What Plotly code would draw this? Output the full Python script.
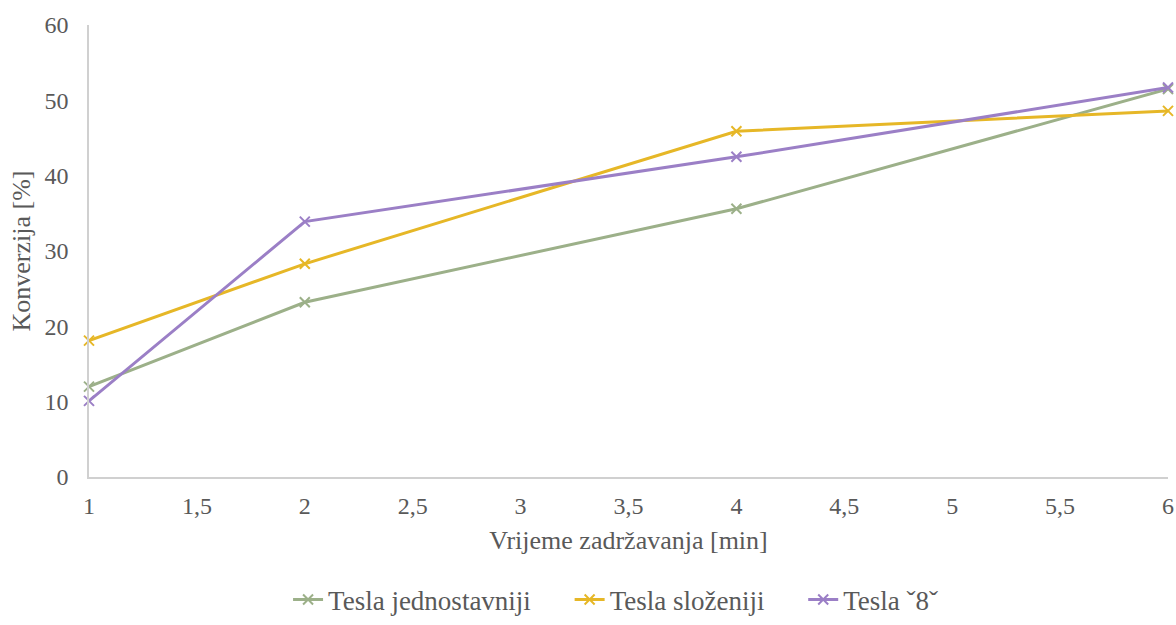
import plotly.graph_objects as go

x_vals = [1, 2, 4, 6]
series_names = ["Tesla jednostavniji", "Tesla složeniji", "Tesla ˇ8ˇ"]
y_jednostavniji = [12.0, 23.2, 35.6, 51.5]
y_slozeniji = [18.1, 28.3, 45.9, 48.6]
y_osam = [10.1, 33.9, 42.5, 51.7]
colors = ["#9CB089", "#E6B727", "#9B7FC6"]

x_ticks = [1, 1.5, 2, 2.5, 3, 3.5, 4, 4.5, 5, 5.5, 6]
x_ticktext = ["1", "1,5", "2", "2,5", "3", "3,5", "4", "4,5", "5", "5,5", "6"]

font_family = "Liberation Serif, Times New Roman, serif"
pad = "\u00a0" * 5

fig = go.Figure()
for i, (name, ys, c) in enumerate(zip(series_names, [y_jednostavniji, y_slozeniji, y_osam], colors)):
    label = name + (pad if i < len(series_names) - 1 else "")
    fig.add_trace(go.Scatter(
        x=x_vals, y=ys, name=label, mode="lines+markers",
        line=dict(color=c, width=3),
        marker=dict(symbol="x-thin", size=10, line=dict(color=c, width=2), color=c),
        cliponaxis=False,
    ))

txt = "#595959"
fig.update_layout(
    width=1176, height=625,
    margin=dict(l=89, r=8, t=25, b=148),
    paper_bgcolor="white", plot_bgcolor="white",
    font=dict(family=font_family, color=txt, size=24),
    showlegend=True,
    legend=dict(orientation="h", x=0.488, xanchor="center", xref="paper",
                y=0.04, yanchor="middle", yref="container",
                font=dict(family=font_family, size=27, color=txt)),
    xaxis=dict(
        range=[1, 6], tickvals=x_ticks, ticktext=x_ticktext, automargin=False,
        showgrid=False, zeroline=False, showline=True, linecolor="#D0D0D0", linewidth=1.5,
        ticks="", ticklabelstandoff=6, tickfont=dict(family=font_family, size=24, color=txt),
        title=dict(text="Vrijeme zadržavanja [min]", font=dict(family=font_family, size=26, color=txt), standoff=13),
    ),
    yaxis=dict(
        range=[0, 60], tickvals=[0, 10, 20, 30, 40, 50, 60], automargin=False,
        showgrid=False, zeroline=False, showline=True, linecolor="#D0D0D0", linewidth=1.5,
        ticks="", ticklabelstandoff=14, tickfont=dict(family=font_family, size=24, color=txt),
        title=dict(text="Konverzija [%]", font=dict(family=font_family, size=26, color=txt), standoff=6),
    ),
)
fig.write_html("out.html", config={"displayModeBar": False},
               post_script="document.body.style.margin='0';")
